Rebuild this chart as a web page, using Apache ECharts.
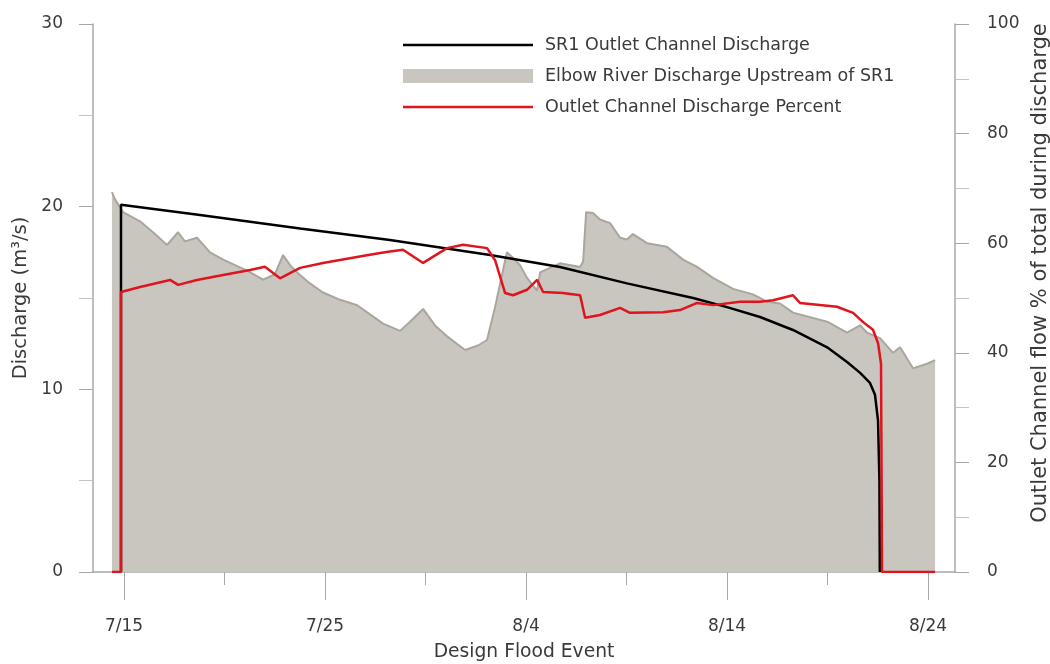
<!DOCTYPE html>
<html>
<head>
<meta charset="utf-8">
<title>Design Flood Event</title>
<script src="https://cdn.jsdelivr.net/npm/echarts@6/dist/echarts.min.js"></script>
<style>
  html, body { margin: 0; padding: 0; background: #fff; }
  #chart { width: 1050px; height: 664px; }
</style>
</head>
<body>
<div id="chart"></div>
<script>
// x values are days after 7/15
var tickDays = [0, 10, 20, 30, 40];
var tickLabels = ['7/15', '7/25', '8/4', '8/14', '8/24'];
var minorTickDays = [5, 15, 25, 35];

// Elbow River discharge upstream of SR1 (m3/s)
var riverFlow = [
  [-0.6, 20.8], [-0.45, 20.4], [-0.05, 19.7], [0.8, 19.2], [1.54, 18.5], [2.14, 17.9],
  [2.69, 18.6], [3.03, 18.1], [3.63, 18.3], [4.28, 17.5], [4.93, 17.1], [6.12, 16.5],
  [6.92, 16.0], [7.51, 16.3], [7.91, 17.35], [8.26, 16.8], [8.61, 16.4], [9.25, 15.8],
  [9.9, 15.3], [10.75, 14.9], [11.6, 14.6], [12.24, 14.1], [12.89, 13.6], [13.73, 13.2],
  [14.23, 13.7], [14.88, 14.4], [15.47, 13.5], [16.07, 12.9], [16.97, 12.15], [17.61, 12.4],
  [18.06, 12.7], [18.46, 14.5], [18.81, 16.3], [19.05, 17.5], [19.35, 17.2], [19.7, 16.8],
  [20.05, 16.1], [20.55, 15.4], [20.7, 16.4], [21.69, 16.9], [22.69, 16.7], [22.84, 17.0],
  [22.99, 19.7], [23.33, 19.65], [23.68, 19.3], [24.18, 19.1], [24.68, 18.3], [25.02, 18.2],
  [25.32, 18.5], [26.02, 18.0], [27.01, 17.8], [27.81, 17.1], [28.51, 16.7], [29.3, 16.1],
  [30.3, 15.5], [31.29, 15.2], [31.99, 14.8], [32.64, 14.7], [33.28, 14.2], [34.98, 13.7],
  [35.97, 13.1], [36.62, 13.5], [36.97, 13.1], [37.61, 12.8], [38.26, 12.0], [38.61, 12.3],
  [39.25, 11.15], [39.95, 11.4], [40.35, 11.6]
];

// SR1 outlet channel discharge (m3/s)
var outletFlow = [
  [-0.15, 0], [-0.15, 20.1], [3.78, 19.55], [8.76, 18.8], [13.23, 18.17], [18.21, 17.35],
  [21.69, 16.7], [25.02, 15.8], [28.31, 15.0], [30.0, 14.5], [31.64, 13.96], [33.28, 13.25],
  [34.98, 12.3], [35.97, 11.5], [36.62, 10.9], [37.11, 10.35], [37.36, 9.7], [37.51, 8.3],
  [37.58, 5.0], [37.6, 0]
];

// outlet channel discharge as percent of total
var outletPercent = [
  [-0.6, 0], [-0.15, 0], [-0.15, 51.1], [0.8, 52.0], [2.29, 53.3], [2.69, 52.4],
  [3.63, 53.3], [4.93, 54.2], [6.27, 55.1], [7.01, 55.7], [7.76, 53.6], [8.76, 55.5],
  [9.9, 56.4], [11.59, 57.5], [12.74, 58.2], [13.23, 58.5], [13.88, 58.8], [14.88, 56.4],
  [16.07, 59.1], [16.87, 59.7], [18.06, 59.1], [18.46, 56.9], [18.96, 50.9], [19.35, 50.5],
  [20.05, 51.5], [20.55, 53.3], [20.85, 51.1], [21.84, 50.9], [22.69, 50.5], [22.94, 46.4],
  [23.68, 46.9], [24.68, 48.2], [25.17, 47.3], [26.82, 47.4], [27.66, 47.8], [28.51, 49.1],
  [29.3, 48.7], [30.65, 49.3], [31.64, 49.3], [32.29, 49.6], [33.28, 50.5], [33.63, 49.1],
  [35.47, 48.4], [36.27, 47.3], [36.77, 45.6], [37.26, 44.2], [37.51, 41.8], [37.66, 38],
  [37.71, 0], [40.35, 0]
];

var axisGrey = '#a8a8a8';
var textGrey = '#3a3a3a';
var font = 'DejaVu Sans';
// thin bar used as legend icon for the two lines
var lineIcon = 'path://M0,0 L130,0 L130,2.5 L0,2.5 Z';

var myChart = echarts.init(document.getElementById('chart'));

var option = {
  animation: false,
  textStyle: { fontFamily: font },
  grid: { left: 93, right: 95, top: 24, bottom: 92, outerBoundsMode: 'none' },
  legend: {
    orient: 'vertical',
    left: 398,
    top: 31,
    itemWidth: 130,
    itemHeight: 14,
    itemGap: 13,
    symbolKeepAspect: true,
    textStyle: { fontFamily: font, fontSize: 17.5, color: textGrey, padding: [0, 0, 0, 7] },
    data: [
      { name: 'SR1 Outlet Channel Discharge', icon: lineIcon },
      { name: 'Elbow River Discharge Upstream of SR1', icon: 'rect' },
      { name: 'Outlet Channel Discharge Percent', icon: lineIcon }
    ]
  },
  xAxis: [
    {
      type: 'value',
      min: -1.542,
      max: 41.34,
      name: 'Design Flood Event',
      nameLocation: 'middle',
      nameGap: 71,
      nameTextStyle: { fontSize: 18.7, color: textGrey },
      axisLine: { onZero: false, lineStyle: { color: axisGrey, width: 1.5 } },
      axisTick: { customValues: tickDays, length: 28, lineStyle: { color: axisGrey } },
      axisLabel: {
        customValues: tickDays,
        margin: 46,
        fontSize: 17,
        color: textGrey,
        formatter: function (v) { return tickLabels[tickDays.indexOf(v)]; }
      },
      splitLine: { show: false }
    },
    {
      // short ticks between the dates
      type: 'value',
      position: 'bottom',
      min: -1.542,
      max: 41.34,
      axisLine: { show: false, onZero: false },
      axisTick: { customValues: minorTickDays, length: 13, lineStyle: { color: axisGrey } },
      axisLabel: { show: false },
      splitLine: { show: false }
    }
  ],
  yAxis: [
    {
      type: 'value',
      min: 0,
      max: 30,
      interval: 10,
      name: 'Discharge (m³/s)',
      nameLocation: 'middle',
      nameGap: 57,
      nameTextStyle: { fontSize: 19.5, color: textGrey },
      axisLine: { show: true, onZero: false, lineStyle: { color: axisGrey, width: 1.5 } },
      axisTick: { show: true, length: 14, lineStyle: { color: axisGrey } },
      minorTick: { show: true, splitNumber: 2, length: 14, lineStyle: { color: '#c4c4c4' } },
      axisLabel: { margin: 30, fontSize: 17, color: textGrey },
      splitLine: { show: false }
    },
    {
      type: 'value',
      position: 'right',
      min: 0,
      max: 100,
      interval: 20,
      name: 'Outlet Channel flow % of total during discharge',
      nameLocation: 'middle',
      nameGap: 72,
      nameTextStyle: { fontSize: 21, color: textGrey, padding: [0, 0, 0, 50] },
      axisLine: { show: true, onZero: false, lineStyle: { color: axisGrey, width: 1.5 } },
      axisTick: { show: true, length: 14, lineStyle: { color: axisGrey } },
      minorTick: { show: true, splitNumber: 2, length: 14, lineStyle: { color: '#c4c4c4' } },
      axisLabel: { margin: 32, fontSize: 17, color: textGrey },
      splitLine: { show: false }
    }
  ],
  series: [
    {
      name: 'Elbow River Discharge Upstream of SR1',
      type: 'line',
      yAxisIndex: 0,
      data: riverFlow,
      symbol: 'none',
      color: '#c9c6c0',
      lineStyle: { color: '#aaa69e', width: 2 },
      areaStyle: { color: '#c9c6c0', opacity: 1 },
      z: 1
    },
    {
      name: 'SR1 Outlet Channel Discharge',
      type: 'line',
      yAxisIndex: 0,
      data: outletFlow,
      symbol: 'none',
      color: '#000',
      lineStyle: { color: '#000', width: 2.5 },
      z: 2
    },
    {
      name: 'Outlet Channel Discharge Percent',
      type: 'line',
      yAxisIndex: 1,
      data: outletPercent,
      symbol: 'none',
      color: '#e0141c',
      lineStyle: { color: '#e0141c', width: 2.5 },
      z: 3
    }
  ]
};

myChart.setOption(option);
</script>
</body>
</html>
